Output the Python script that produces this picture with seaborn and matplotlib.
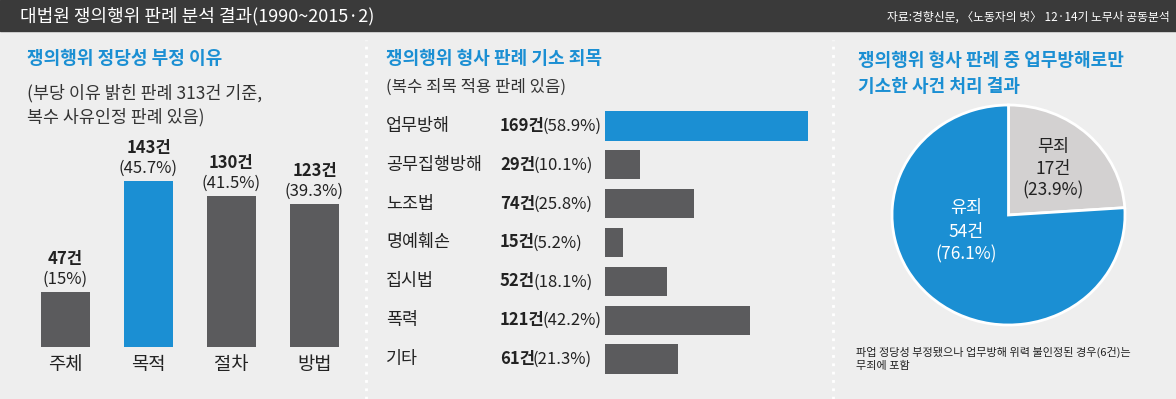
import matplotlib
matplotlib.use("Agg")
import matplotlib.pyplot as plt
import matplotlib.transforms as mtransforms
from matplotlib.patches import Rectangle
from matplotlib.lines import Line2D
import seaborn as sns

# --- data ---
reason_cats = ["주체", "목적", "절차", "방법"]
reason_counts = [47, 143, 130, 123]
reason_pcts = ["15%", "45.7%", "41.5%", "39.3%"]

charge_cats = ["업무방해", "공무집행방해", "노조법", "명예훼손", "집시법", "폭력", "기타"]
charge_counts = [169, 29, 74, 15, 52, 121, 61]
charge_pcts = ["58.9%", "10.1%", "25.8%", "5.2%", "18.1%", "42.2%", "21.3%"]

verdict_cats = ["무죄", "유죄"]
verdict_counts = [17, 54]
verdict_pcts = ["23.9%", "76.1%"]

BLUE = "#1b8fd3"
GRAY = "#5b5b5d"
LIGHT = "#d3d1d1"
BG = "#eeeeee"
DARK = "#222222"

plt.rcParams['font.family'] = ['Noto Sans CJK KR', 'DejaVu Sans']

W, H = 1176, 399
fig = plt.figure(figsize=(W / 100, H / 100), dpi=100, facecolor=BG)


def fx(x):
    return x / W


def fy(y):
    return 1 - y / H


def axes_px(left, top, right, bottom):
    return fig.add_axes([fx(left), fy(bottom), (right - left) / W, (bottom - top) / H])


# header bar
fig.add_artist(Rectangle((0, fy(31)), 1, 31 / H, transform=fig.transFigure,
                         color="#3a3a3a", zorder=0))
fig.text(fx(20), fy(16), "대법원 쟁의행위 판례 분석 결과(1990~2015·2)", color="white",
         fontsize=13, va="center", ha="left")
fig.text(fx(1170), fy(17), "자료:경향신문, 〈노동자의 벗〉 12·14기 노무사 공동분석", color="white",
         fontsize=8.5, va="center", ha="right")

# dotted separators
for xs in (366, 833):
    fig.add_artist(Line2D([fx(xs), fx(xs)], [0, fy(40)], transform=fig.transFigure,
                          color="white", lw=2, linestyle=(0, (1, 2))))

# --- Panel 1: vertical bars ---
fig.text(fx(27), fy(58), "쟁의행위 정당성 부정 이유", color=BLUE, fontsize=13,
         fontweight="bold", va="center")
fig.text(fx(27), fy(93), "(부당 이유 밝힌 판례 313건 기준,", color="#333333", fontsize=12.5, va="center")
fig.text(fx(27), fy(117), "복수 사유인정 판례 있음)", color="#333333", fontsize=12.5, va="center")

ax1 = axes_px(24, 115, 356, 347)
sns.barplot(x=reason_cats, y=reason_counts, hue=reason_cats,
            palette=[GRAY, BLUE, GRAY, GRAY], saturation=1, width=0.59,
            legend=False, ax=ax1)
ax1.set_xlim(-0.5, 3.5)
ax1.set_ylim(0, 200)
ax1.set_facecolor("none")
for s in ax1.spines.values():
    s.set_visible(False)
ax1.set_yticks([])
ax1.set_xlabel("")
ax1.set_ylabel("")
ax1.tick_params(axis="x", length=0, pad=5, labelsize=13.5, labelcolor=DARK)
for i, (c, p) in enumerate(zip(reason_counts, reason_pcts)):
    ax1.annotate(f"{c}건", xy=(i, c), xytext=(0, 24), textcoords="offset points",
                 ha="center", va="center", fontsize=12, fontweight="bold", color=DARK)
    ax1.annotate(f"({p})", xy=(i, c), xytext=(0, 9.5), textcoords="offset points",
                 ha="center", va="center", fontsize=12, color=DARK)

# --- Panel 2: horizontal bars ---
fig.text(fx(386), fy(59), "쟁의행위 형사 판례 기소 죄목", color=BLUE, fontsize=13,
         fontweight="bold", va="center")
fig.text(fx(386), fy(87), "(복수 죄목 적용 판례 있음)", color="#333333", fontsize=12, va="center")

ax2 = axes_px(605, 106.6, 815, 378.4)
sns.barplot(x=charge_counts, y=charge_cats, hue=charge_cats, orient="h",
            palette=[BLUE] + [GRAY] * 6, saturation=1, width=0.75,
            legend=False, ax=ax2)
ax2.set_xlim(0, 175)
ax2.set_ylim(6.5, -0.5)
ax2.set_facecolor("none")
ax2.axis("off")
trans = mtransforms.blended_transform_factory(fig.transFigure, ax2.transData)
for i, (cat, c, p) in enumerate(zip(charge_cats, charge_counts, charge_pcts)):
    ax2.text(fx(386), i, cat, transform=trans, ha="left", va="center",
             fontsize=12.5, color=DARK)
    t = ax2.text(fx(500), i, f"{c}건", transform=trans, ha="left", va="center",
                 fontsize=12, fontweight="bold", color=DARK)
    ax2.annotate(f"({p})", xy=(1, 0), xycoords=t, xytext=(-1.5, 0),
                 textcoords="offset points", ha="left", va="bottom",
                 fontsize=12, color=DARK)

# --- Panel 3: pie ---
fig.text(fx(858), fy(60), "쟁의행위 형사 판례 중 업무방해로만", color=BLUE, fontsize=13,
         fontweight="bold", va="center")
fig.text(fx(858), fy(87), "기소한 사건 처리 결과", color=BLUE, fontsize=13,
         fontweight="bold", va="center")

ax3 = axes_px(892, 105, 1125, 325)
ax3.pie(verdict_counts, colors=[LIGHT, BLUE], startangle=90, counterclock=False,
        wedgeprops=dict(edgecolor="white", linewidth=2))
ax3.set_aspect("auto")
ax3.set_xlim(-1, 1)
ax3.set_ylim(-1, 1)

label_pos = [(0.38, [0.62, 0.42, 0.22], DARK), (-0.36, [0.06, -0.15, -0.36], "white")]
for (x, ys, col), cat, c, p in zip(label_pos, verdict_cats, verdict_counts, verdict_pcts):
    for y, s in zip(ys, [cat, f"{c}건", f"({p})"]):
        ax3.text(x, y, s, ha="center", va="center", fontsize=12.5, color=col)

fig.text(fx(856), fy(352), "파업 정당성 부정됐으나 업무방해 위력 불인정된 경우(6건)는",
         fontsize=8, color=DARK, va="center")
fig.text(fx(856), fy(366), "무죄에 포함", fontsize=8, color=DARK, va="center")

fig.savefig("out.png", dpi=100, facecolor=BG)
